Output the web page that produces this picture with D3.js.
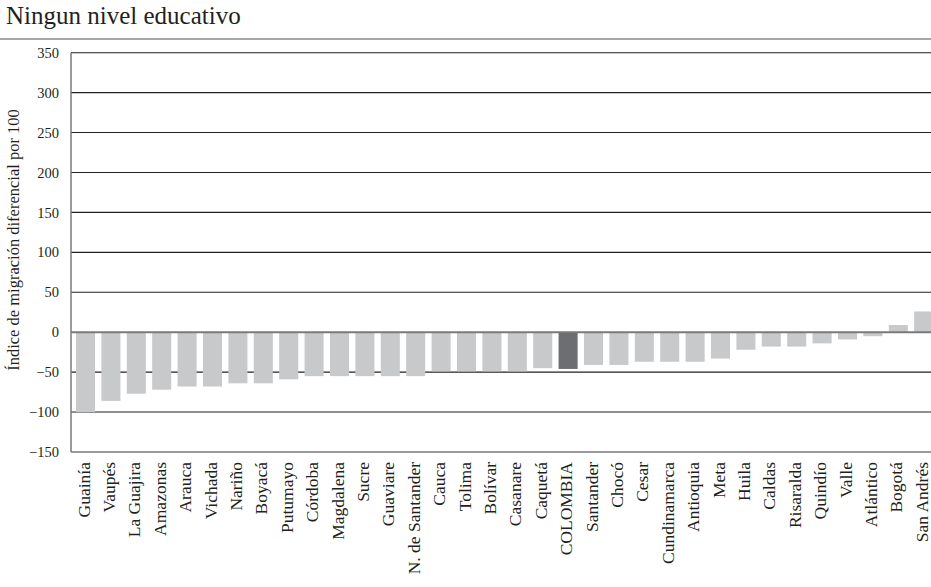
<!DOCTYPE html>
<html>
<head>
<meta charset="utf-8">
<script src="https://cdn.jsdelivr.net/npm/d3@7"></script>
<style>
  html, body { margin: 0; padding: 0; background: #fff; }
  svg { display: block; }
  text { font-family: "Liberation Serif", "DejaVu Serif", serif; fill: #231f20; }
</style>
</head>
<body>
<svg id="chart" width="931" height="587"></svg>
<script>
const title = "Ningun nivel educativo";
const yAxisTitle = "Índice de migración diferencial por 100";
const categories = ["Guainía","Vaupés","La Guajira","Amazonas","Arauca","Vichada","Nariño","Boyacá","Putumayo","Córdoba","Magdalena","Sucre","Guaviare","N. de Santander","Cauca","Tolima","Bolívar","Casanare","Caquetá","COLOMBIA","Santander","Chocó","Cesar","Cundinamarca","Antioquia","Meta","Huila","Caldas","Risaralda","Quindío","Valle","Atlántico","Bogotá","San Andrés"];
const values = [-100,-86,-77,-72,-68,-68,-64,-64,-59,-55,-55,-55,-55,-55,-49,-49,-49,-49,-45,-46,-41,-41,-37,-37,-37,-33,-22,-18,-18,-14,-9,-5,9,26];
const highlight = "COLOMBIA";
const yTicks = [-150,-100,-50,0,50,100,150,200,250,300,350];

const svg = d3.select("#chart");
const W = 931;
const axisX = 71;

const x = d3.scaleBand().domain(categories).range([72.8, 936.4]).paddingInner(0.25).paddingOuter(0.125);
const y = d3.scaleLinear().domain([-150, 350]).range([452, 52.7]);

// title
svg.append("text").attr("x", 6).attr("y", 24).attr("font-size", 25).text(title);
svg.append("line").attr("x1", 0).attr("x2", W).attr("y1", 39).attr("y2", 39)
  .attr("stroke", "#8a8a8a").attr("stroke-width", 1.5);

// gridlines
svg.append("g").selectAll("line").data(yTicks.filter(d => d !== 0 && d !== -150)).join("line")
  .attr("x1", axisX).attr("x2", W)
  .attr("y1", d => y(d)).attr("y2", d => y(d))
  .attr("stroke", "#231f20").attr("stroke-width", 1.1);

// y axis tick labels
const yAxis = d3.axisLeft(y).tickValues(yTicks).tickSize(0).tickPadding(12)
  .tickFormat(d => d < 0 ? "\u2212" + Math.abs(d) : String(d));
const gy = svg.append("g").attr("transform", `translate(${axisX},0)`).call(yAxis);
gy.select(".domain").remove();
gy.selectAll("text").attr("font-size", 14.5).attr("font-family", "Liberation Serif, serif").attr("fill", "#231f20");

// bars
svg.append("g").selectAll("rect").data(categories).join("rect")
  .attr("x", d => x(d))
  .attr("width", x.bandwidth())
  .attr("y", (d, i) => y(Math.max(0, values[i])))
  .attr("height", (d, i) => Math.abs(y(values[i]) - y(0)))
  .attr("fill", d => d === highlight ? "#6d6e71" : "#c8c9cb");

// zero line, bottom line, left axis
svg.append("line").attr("x1", axisX).attr("x2", W).attr("y1", y(0)).attr("y2", y(0))
  .attr("stroke", "#7a7a7a").attr("stroke-width", 2);
svg.append("line").attr("x1", axisX).attr("x2", W).attr("y1", y(-150)).attr("y2", y(-150))
  .attr("stroke", "#7a7a7a").attr("stroke-width", 1.5);
svg.append("line").attr("x1", axisX).attr("x2", axisX).attr("y1", y(350)).attr("y2", y(-150))
  .attr("stroke", "#7a7a7a").attr("stroke-width", 1.5);

// x labels
const xAxis = d3.axisBottom(x).tickSize(0).tickPadding(0);
const gx = svg.append("g").attr("transform", `translate(0,${y(-150)})`).call(xAxis);
gx.select(".domain").remove();
gx.selectAll("text")
  .attr("font-size", 17.5).attr("font-family", "Liberation Serif, serif").attr("fill", "#231f20")
  .attr("text-anchor", "end")
  .attr("transform", "rotate(-90)")
  .attr("x", -10).attr("y", -2).attr("dy", "0.35em");

// y axis title
svg.append("text")
  .attr("transform", `translate(13,${240}) rotate(-90)`)
  .attr("text-anchor", "middle").attr("dy", "0.35em")
  .attr("font-size", 16.5).text(yAxisTitle);
</script>
</body>
</html>
